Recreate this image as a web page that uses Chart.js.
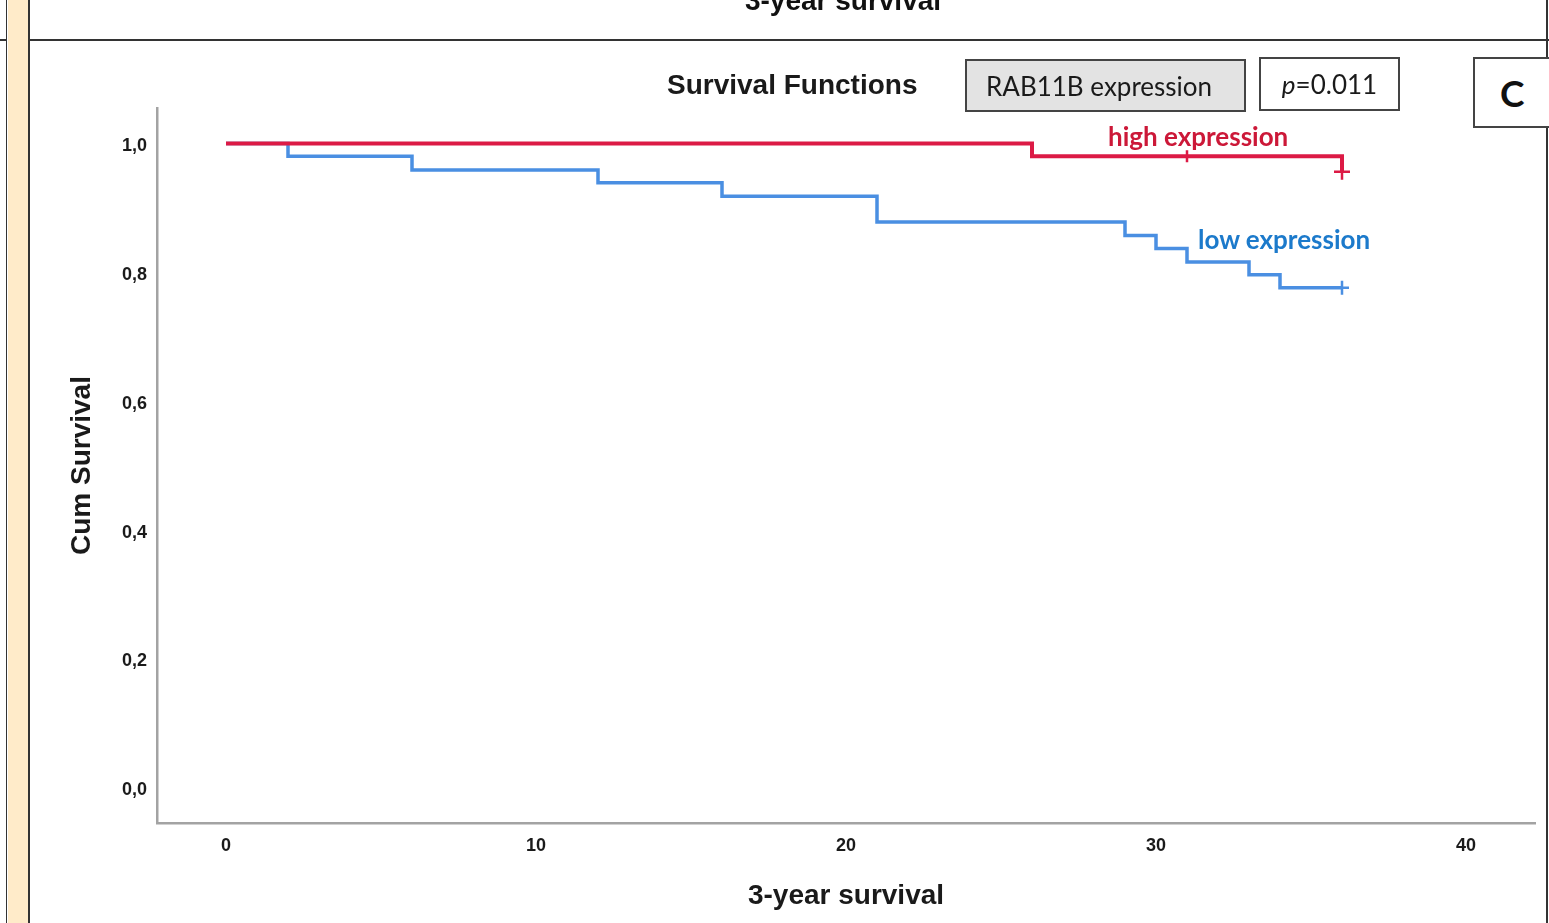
<!DOCTYPE html>
<html>
<head>
<meta charset="utf-8">
<script src="https://cdn.jsdelivr.net/npm/chart.js@4"></script>
<style>
  html, body { margin: 0; padding: 0; background: #fff; }
  body { width: 1549px; height: 923px; position: relative; overflow: hidden; }
  #wrap { position: absolute; left: 0; top: 0; width: 1549px; height: 923px; }
  .ln { position: absolute; background: #333; }
  .txt { position: absolute; white-space: nowrap; }
  .box { position: absolute; box-sizing: border-box; border: 2px solid #444; display: flex; align-items: center; justify-content: center; font-family: Lato, "Open Sans", sans-serif; color: #1a1a1a; }
</style>
</head>
<body>
<div id="wrap"><canvas id="kmChart"></canvas></div>

<!-- frame around the panel -->
<div style="position:absolute;left:8px;top:0;width:20px;height:923px;background:#ffebc9;"></div>
<div class="ln" style="left:6px;top:0;width:1px;height:923px;"></div>
<div class="ln" style="left:0;top:39px;width:7px;height:2px;"></div>
<div class="ln" style="left:28px;top:0;width:2px;height:923px;"></div>
<div class="ln" style="left:30px;top:39px;width:1519px;height:2px;"></div>
<div class="ln" style="left:1546px;top:0;width:2px;height:923px;"></div>

<div class="txt" style="left:0;width:1686px;top:-13px;text-align:center;font:bold 28px 'Liberation Sans',Arial,sans-serif;line-height:28px;color:#111;">3-year survival</div>

<div class="txt" style="left:667px;top:67px;font:bold 28px 'Liberation Sans',Arial,sans-serif;line-height:36px;color:#1a1a1a;">Survival Functions</div>
<div class="box" style="left:965px;top:59px;width:281px;height:53px;background:#e3e3e3;font-size:26px;justify-content:flex-start;padding-left:19px;">RAB11B expression</div>
<div class="box" style="left:1259px;top:57px;width:141px;height:54px;background:#fff;font-size:26px;"><i>p</i>=0.011</div>
<div class="box" style="left:1473px;top:57px;width:80px;height:71px;background:#fff;font-size:37px;font-weight:bold;color:#111;justify-content:flex-start;padding-left:25px;">C</div>

<div class="txt" style="left:1108px;top:119px;font:bold 26px Lato,'Open Sans',sans-serif;line-height:34px;color:#cc1838;">high expression</div>
<div class="txt" style="left:1198px;top:222px;font:bold 26px Lato,'Open Sans',sans-serif;line-height:34px;color:#1c7acb;">low expression</div>

<script>
// Kaplan-Meier steps (time in months, cumulative survival)
const highTimes = [0, 26, 36];
const highSurvival = [1.0, 0.98, 0.956];
const lowTimes = [0, 2, 6, 12, 16, 21, 29, 30, 31, 33, 34, 36];
const lowSurvival = [1.0, 0.980, 0.959, 0.939, 0.918, 0.878, 0.857, 0.837, 0.816, 0.796, 0.776, 0.776];

// censored cases (+ marks)
const highCensorTimes = [31, 36];
const highCensorSurvival = [0.98, 0.956];
const lowCensorTimes = [36];
const lowCensorSurvival = [0.776];

const xTicks = [0, 10, 20, 30, 40];
const yTicks = [0.0, 0.2, 0.4, 0.6, 0.8, 1.0];

const RED = '#dc1a45';
const BLUE = '#4a8fe2';

const toPoints = (xs, ys) => xs.map((x, i) => ({ x: x, y: ys[i] }));

const tickFont = { family: "'Liberation Sans', Arial, sans-serif", size: 18, weight: 'bold' };
const titleFont = { family: "'Liberation Sans', Arial, sans-serif", size: 28, weight: 'bold' };

new Chart(document.getElementById('kmChart'), {
    type: 'line',
    data: {
        datasets: [
            {
                label: 'high expression',
                data: toPoints(highTimes, highSurvival),
                borderColor: RED,
                borderWidth: 4,
                stepped: 'before',
                pointRadius: 0,
                fill: false,
                order: 1
            },
            {
                label: 'high censored',
                data: toPoints(highCensorTimes, highCensorSurvival),
                showLine: false,
                pointStyle: 'cross',
                pointRadius: [6, 8],
                borderColor: RED,
                borderWidth: 2.5,
                order: 0
            },
            {
                label: 'low expression',
                data: toPoints(lowTimes, lowSurvival),
                borderColor: BLUE,
                borderWidth: 3.5,
                stepped: 'before',
                pointRadius: 0,
                fill: false,
                order: 3
            },
            {
                label: 'low censored',
                data: toPoints(lowCensorTimes, lowCensorSurvival),
                showLine: false,
                pointStyle: 'cross',
                pointRadius: 7,
                borderColor: BLUE,
                borderWidth: 2.5,
                order: 2
            }
        ]
    },
    options: {
        responsive: true,
        maintainAspectRatio: false,
        animation: false,
        layout: { padding: { left: 0, top: 108, right: 14, bottom: 0 } },
        plugins: {
            legend: { display: false },
            tooltip: { enabled: false }
        },
        scales: {
            x: {
                type: 'linear',
                min: -69 / 31,
                max: 1309 / 31,
                grid: { display: true, drawOnChartArea: false, drawTicks: false },
                border: { display: true, color: '#a3a3a3', width: 2.5 },
                afterBuildTicks: (scale) => { scale.ticks = xTicks.map(v => ({ value: v })); },
                afterFit: (scale) => { scale.height = 100; },
                ticks: {
                    font: tickFont,
                    color: '#1a1a1a',
                    padding: 12,
                    maxRotation: 0,
                    callback: (v) => String(v)
                },
                title: {
                    display: true,
                    text: '3-year survival',
                    font: titleFont,
                    color: '#1a1a1a',
                    padding: { top: 0, bottom: 10 }
                }
            },
            y: {
                type: 'linear',
                min: -36 / 643.5,
                max: 1 + 35.5 / 643.5,
                grid: { display: true, drawOnChartArea: false, drawTicks: false },
                border: { display: true, color: '#a3a3a3', width: 2.5 },
                afterBuildTicks: (scale) => { scale.ticks = yTicks.map(v => ({ value: v })); },
                afterFit: (scale) => { scale.width = 157; },
                ticks: {
                    font: tickFont,
                    color: '#1a1a1a',
                    padding: 10,
                    labelOffset: 3,
                    callback: (v) => v.toFixed(1).replace('.', ',')
                },
                title: {
                    display: true,
                    text: 'Cum Survival',
                    font: titleFont,
                    color: '#1a1a1a',
                    padding: { top: 65, bottom: 0 }
                }
            }
        }
    }
});
</script>
</body>
</html>
